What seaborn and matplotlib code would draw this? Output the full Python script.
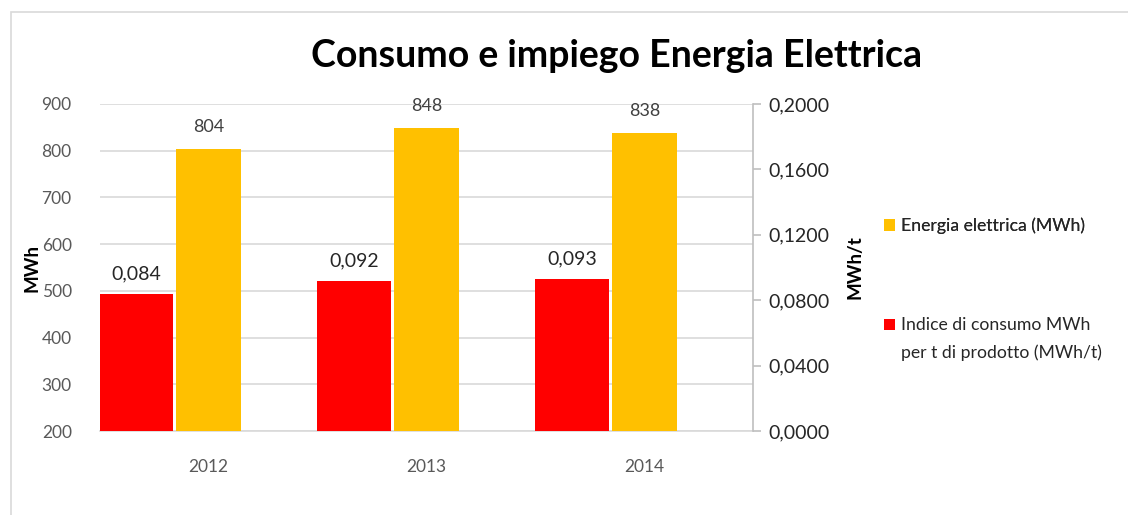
import matplotlib
matplotlib.use("Agg")
import matplotlib.pyplot as plt
import seaborn as sns
import pandas as pd
from matplotlib.patches import Rectangle, Patch
from matplotlib.ticker import FuncFormatter, MultipleLocator

years = ["2012", "2013", "2014"]
energia = [804, 848, 838]
indice = [0.084, 0.092, 0.093]
energia_labels = ["804", "848", "838"]
indice_labels = ["0,084", "0,092", "0,093"]
legend_energia = "Energia elettrica (MWh)"
legend_indice = ["Indice di consumo MWh", "per t di prodotto (MWh/t)"]

YELLOW = "#FFC000"
RED = "#FF0000"
TXT = "#595959"

sns.set_theme(style="white")
plt.rcParams["font.family"] = ["Lato", "DejaVu Sans"]

fig = plt.figure(figsize=(11.28, 5.15), dpi=100)
fig.patches.append(Rectangle((11/1128, -0.1), 1.2, 1.1 - 12/515, transform=fig.transFigure,
                             fill=False, edgecolor="#d9d9d9", linewidth=1.2, zorder=0))

ax = fig.add_axes([99.5/1128, 1 - 431/515, 654/1128, 327/515])
ax2 = ax.twinx()

df = pd.DataFrame({"anno": years, "energia": energia, "indice": indice})

sns.barplot(data=df, x="anno", y="energia", ax=ax, color=YELLOW, width=65/218,
            saturation=1, zorder=3)
sns.barplot(data=df, x="anno", y="indice", ax=ax2, color=RED, width=74/218,
            saturation=1, zorder=3)
# shift red bars to the left of each category
for p in ax2.patches:
    p.set_x(p.get_x() - 72/218)
    p.set_edgecolor("none")
for p in ax.patches:
    p.set_edgecolor("none")
    # yellow bars start at the axis bottom (200)
    h = p.get_height()
    p.set_y(200)
    p.set_height(h - 200)

ax.set_ylim(200, 900)
ax.set_xlim(-0.5, 2.5)
ax2.set_ylim(0, 0.2)
ax.yaxis.set_major_locator(MultipleLocator(100))
ax2.yaxis.set_major_locator(MultipleLocator(0.04))
ax2.yaxis.set_major_formatter(FuncFormatter(lambda v, _: f"{v:.4f}".replace(".", ",")))

ax.grid(axis="y", color="#d9d9d9", linewidth=1.2, zorder=0)
ax.set_axisbelow(True)

for a in (ax, ax2):
    for s in ("top", "left", "right", "bottom"):
        a.spines[s].set_visible(False)
ax.spines["bottom"].set_visible(True)
ax.spines["bottom"].set_color("#d9d9d9")
ax.spines["bottom"].set_linewidth(1.2)
ax2.spines["right"].set_visible(True)
ax2.spines["right"].set_color("#bfbfbf")
ax2.spines["right"].set_linewidth(1.2)

ax.tick_params(axis="y", left=False, labelsize=12.5, labelcolor=TXT, pad=14)
ax.tick_params(axis="x", bottom=False, labelsize=12.5, labelcolor=TXT, pad=14)
ax2.tick_params(axis="y", right=True, length=6, width=1.2, color="#bfbfbf",
                labelsize=14, labelcolor="#262626", pad=5)

ax.set_xlabel("")
ax.set_ylabel("MWh", fontsize=13.5, fontweight="bold", color="black", labelpad=1)
ax2.set_ylabel("MWh/t", fontsize=13.5, fontweight="bold", color="black", labelpad=12)

for p, lab in zip(ax.patches, energia_labels):
    ax.annotate(lab, (p.get_x() + p.get_width()/2, p.get_y() + p.get_height()),
                xytext=(0, 10), textcoords="offset points", ha="center", va="bottom",
                fontsize=13, color="#404040")
for p, lab in zip(ax2.patches, indice_labels):
    ax2.annotate(lab, (p.get_x() + p.get_width()/2, p.get_height()),
                 xytext=(0, 8), textcoords="offset points", ha="center", va="bottom",
                 fontsize=14, color="#262626")

fig.text(617/1128, 1 - 56/515, "Consumo e impiego Energia Elettrica", ha="center", va="center",
         fontsize=27, fontweight="bold", color="black")

leg_kw = dict(loc="center left", frameon=False, fontsize=12.7, labelcolor="#262626",
              handlelength=0.6, handleheight=0.6, handletextpad=0.35, borderpad=0,
              borderaxespad=0)
leg1 = fig.legend([Patch(facecolor=YELLOW, edgecolor="none")], [legend_energia],
                  bbox_to_anchor=(884/1128, 1 - 226/515), **leg_kw)
fig.add_artist(leg1)
leg2 = fig.legend([Patch(facecolor=RED, edgecolor="none"), Patch(facecolor="none", edgecolor="none")],
                  legend_indice, bbox_to_anchor=(884/1128, 1 - 339/515), labelspacing=0.6, **leg_kw)

fig.savefig("out.png", dpi=100)
